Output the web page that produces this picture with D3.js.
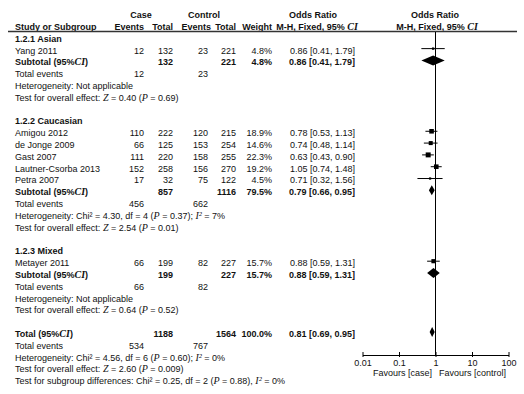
<!DOCTYPE html>
<html><head><meta charset="utf-8">
<script src="https://cdn.jsdelivr.net/npm/d3@7"></script>
<style>
html,body{margin:0;padding:0;background:#fff;}
svg{display:block;font-family:"Liberation Sans",Arial,sans-serif;font-size:9px;fill:#111;}
</style></head>
<body><svg id="chart" width="524" height="394"></svg>
<script>
// ---- data ----
const groupLabels = ["1.2.1 Asian", "1.2.2 Caucasian", "1.2.3 Mixed"];
const studyNames = ["Yang 2011", "Amigou  2012", "de Jonge 2009", "Gast 2007", "Lautner-Csorba 2013", "Petra 2007", "Metayer 2011"];
const studyGroup = [0, 1, 1, 1, 1, 1, 2];
const caseEvents = [12, 110, 66, 111, 152, 17, 66];
const caseTotals = [132, 222, 125, 220, 258, 32, 199];
const ctrlEvents = [23, 120, 153, 158, 156, 75, 82];
const ctrlTotals = [221, 215, 254, 255, 270, 122, 227];
const weights = [4.8, 18.9, 14.6, 22.3, 19.2, 4.5, 15.7];
const orValues = [0.86, 0.78, 0.74, 0.63, 1.05, 0.71, 0.88];
const ciLow = [0.41, 0.53, 0.48, 0.43, 0.74, 0.32, 0.59];
const ciHigh = [1.79, 1.13, 1.14, 0.90, 1.48, 1.56, 1.31];

const subCaseTotals = [132, 857, 199];
const subCtrlTotals = [221, 1116, 227];
const subCaseEvents = [12, 456, 66];
const subCtrlEvents = [23, 662, 82];
const subWeights = [4.8, 79.5, 15.7];
const subOR = [0.86, 0.79, 0.88];
const subLow = [0.41, 0.66, 0.59];
const subHigh = [1.79, 0.95, 1.31];
const subChi = [null, "4.30", null];
const subDf = [null, "4", null];
const subHetP = [null, "0.37", null];
const subI2 = [null, "7%", null];
const subZ = ["0.40", "2.54", "0.64"];
const subP = ["0.69", "0.01", "0.52"];

const totalCase = 1188, totalCtrl = 1564, totalWeight = 100.0;
const totalOR = 0.81, totalLow = 0.69, totalHigh = 0.95;
const totalCaseEvents = 534, totalCtrlEvents = 767;
const totalChi = "4.56", totalDf = "6", totalHetP = "0.60", totalI2 = "0%";
const totalZ = "2.60", totalP = "0.009";
const diffChi = "0.25", diffDf = "2", diffP = "0.88", diffI2 = "0%";

const axisTicks = [0.01, 0.1, 1, 10, 100];
const axisTickLabels = ["0.01", "0.1", "1", "10", "100"];
const favoursLeft = "Favours [case]", favoursRight = "Favours [control]";

// ---- layout ----
const svg = d3.select("#chart");
const x = d3.scaleLog().domain([0.01, 100]).range([362.5, 508.5]);
const row0 = 38.5, pitch = 11.81;
const rowY = k => row0 + pitch * k;
const markOff = -1.7;
const col = {name: 15, ce: 144, ct: 173, oe: 208, ot: 236, w: 272, or: 355};

function txt(xp, y, parts, anchor, bold) {
  const t = svg.append("text").attr("x", xp).attr("y", y + 3.2)
    .attr("text-anchor", anchor || "start")
    .style("font-weight", bold ? "bold" : "normal");
  (typeof parts === "string" ? [[parts]] : parts).forEach(p => {
    const s = t.append("tspan").text(p[0]);
    if (p[1] === "i") s.style("font-style", "italic").style("font-family", "'Liberation Serif','Times New Roman',serif").style("font-size", "10px");
    if (p[1] === "s") s.style("font-style", "italic");
  });
  return t;
}
const fmt = v => v.toFixed(2);
const ciStr = (o, l, h) => `${fmt(o)} [${fmt(l)}, ${fmt(h)}]`;

// header
txt(141, 15, "Case", "middle", true);
txt(204, 15, "Control", "middle", true);
txt(313, 15, "Odds Ratio", "middle", true);
txt(435, 15, "Odds Ratio", "middle", true);
txt(col.name, 27, "Study or Subgroup", "start", true);
txt(col.ce, 27, "Events", "end", true);
txt(col.ct, 27, "Total", "end", true);
txt(211, 27, "Events", "end", true);
txt(col.ot, 27, "Total", "end", true);
txt(col.w, 27, "Weight", "end", true);
txt(317, 27, [["M-H, Fixed, 95% "], ["CI", "i"]], "middle", true);
txt(437, 27, [["M-H, Fixed, 95% "], ["CI", "i"]], "middle", true);
svg.append("line").attr("x1", 8).attr("x2", 517).attr("y1", 31.5).attr("y2", 31.5)
  .attr("stroke", "#333").attr("stroke-width", 1.3);

// vertical line of no effect
svg.append("line").attr("x1", x(1)).attr("x2", x(1)).attr("y1", 32).attr("y2", 355)
  .attr("stroke", "#000").attr("stroke-width", 1);

function diamond(y, o, l, h) {
  const yy = y + markOff;
  svg.append("path")
    .attr("d", `M${x(l)},${yy}L${x(o)},${yy - 5}L${x(h)},${yy}L${x(o)},${yy + 5}Z`)
    .attr("fill", "#000");
}

let k = 0;
groupLabels.forEach((g, gi) => {
  txt(col.name, rowY(k), g, "start", true); k++;
  studyNames.forEach((n, i) => {
    if (studyGroup[i] !== gi) return;
    const y = rowY(k);
    txt(col.name, y, n);
    txt(col.ce, y, String(caseEvents[i]), "end");
    txt(col.ct, y, String(caseTotals[i]), "end");
    txt(col.oe, y, String(ctrlEvents[i]), "end");
    txt(col.ot, y, String(ctrlTotals[i]), "end");
    txt(col.w, y, weights[i].toFixed(1) + "%", "end");
    txt(col.or, y, ciStr(orValues[i], ciLow[i], ciHigh[i]), "end");
    const yy = y + markOff;
    svg.append("line").attr("x1", x(ciLow[i])).attr("x2", x(ciHigh[i]))
      .attr("y1", yy).attr("y2", yy).attr("stroke", "#000").attr("stroke-width", 1);
    const s = Math.sqrt(weights[i]) * 1.05;
    svg.append("rect").attr("x", x(orValues[i]) - s / 2).attr("y", yy - s / 2)
      .attr("width", s).attr("height", s).attr("fill", "#000");
    k++;
  });
  let y = rowY(k);
  txt(col.name, y, [["Subtotal (95%"], ["CI", "i"], [")"]], "start", true);
  txt(col.ct, y, String(subCaseTotals[gi]), "end", true);
  txt(col.ot, y, String(subCtrlTotals[gi]), "end", true);
  txt(col.w, y, subWeights[gi].toFixed(1) + "%", "end", true);
  txt(col.or, y, ciStr(subOR[gi], subLow[gi], subHigh[gi]), "end", true);
  diamond(y, subOR[gi], subLow[gi], subHigh[gi]);
  k++;
  y = rowY(k);
  txt(col.name, y, "Total events");
  txt(col.ce, y, String(subCaseEvents[gi]), "end");
  txt(col.oe, y, String(subCtrlEvents[gi]), "end");
  k++;
  y = rowY(k);
  if (subChi[gi] === null) txt(col.name, y, "Heterogeneity: Not applicable");
  else txt(col.name, y, [["Heterogeneity: Chi² = " + subChi[gi] + ", df = " + subDf[gi] + " ("], ["P", "i"], [" = " + subHetP[gi] + "); "], ["I²", "i"], [" = " + subI2[gi]]]);
  k++;
  y = rowY(k);
  txt(col.name, y, [["Test for overall effect: "], ["Z", "i"], [" = " + subZ[gi] + " ("], ["P", "i"], [" = " + subP[gi] + ")"]]);
  k += 2;
});

// overall
let y = rowY(k);
txt(col.name, y, [["Total (95%"], ["CI", "i"], [")"]], "start", true);
txt(col.ct, y, String(totalCase), "end", true);
txt(col.ot, y, String(totalCtrl), "end", true);
txt(col.w, y, totalWeight.toFixed(1) + "%", "end", true);
txt(col.or, y, ciStr(totalOR, totalLow, totalHigh), "end", true);
diamond(y, totalOR, totalLow, totalHigh);
k++; y = rowY(k);
txt(col.name, y, "Total events");
txt(col.ce, y, String(totalCaseEvents), "end");
txt(col.oe, y, String(totalCtrlEvents), "end");
k++; y = rowY(k);
txt(col.name, y, [["Heterogeneity: Chi² = " + totalChi + ", df = " + totalDf + " ("], ["P", "i"], [" = " + totalHetP + "); "], ["I²", "i"], [" = " + totalI2]]);
k++; y = rowY(k);
txt(col.name, y, [["Test for overall effect: "], ["Z", "i"], [" = " + totalZ + " ("], ["P", "i"], [" = " + totalP + ")"]]);
k++; y = rowY(k);
txt(col.name, y, [["Test for subgroup differences: Chi² = " + diffChi + ", df = " + diffDf + " ("], ["P", "i"], [" = " + diffP + "), "], ["I²", "i"], [" = " + diffI2]]);

// axis
const axisY = 355;
const ax = svg.append("g").attr("transform", `translate(0,${axisY})`)
  .call(d3.axisBottom(x).tickValues(axisTicks).tickSizeInner(2).tickSizeOuter(0).tickPadding(3)
    .tickFormat((d, i) => axisTickLabels[i]));
ax.select(".domain").attr("stroke", "#000");
ax.selectAll(".tick line").attr("stroke", "#000").attr("y1", -3).attr("y2", 2);
ax.selectAll(".tick text").attr("fill", "#111").style("font-family", "'Liberation Sans',Arial,sans-serif").style("font-size", "9px");
txt(432, 373, favoursLeft, "end");
txt(439, 373, favoursRight, "start");
</script></body></html>
